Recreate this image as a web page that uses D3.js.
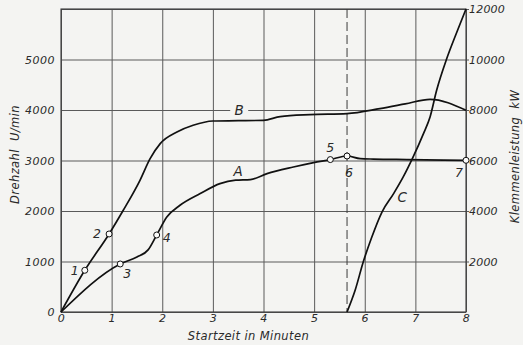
<!DOCTYPE html>
<html>
<head>
<meta charset="utf-8">
<script src="https://cdn.jsdelivr.net/npm/d3@7"></script>
<style>
  body { margin: 0; background: #f4f4f2; }
  svg { display: block; }
  text { font-family: "DejaVu Sans", sans-serif; font-style: italic; fill: #2a2a2a; }
</style>
</head>
<body>
<div id="chart"></div>
<script>
// time axis (minutes) and tick values
const timeTicks = [0, 1, 2, 3, 4, 5, 6, 7, 8];
const speedTicks = [0, 1000, 2000, 3000, 4000, 5000, 6000];
const powerTicks = [2000, 4000, 6000, 8000, 10000, 12000];

// curve B: Drehzahl (U/min)
const timeB  = [0, 0.47, 0.95, 1.23, 1.56, 1.76, 1.96, 2.29, 2.61, 3.0, 3.5, 4.0, 4.33, 4.92, 5.65, 6.3, 6.8, 7.29, 8.0];
const speedB = [0, 826, 1545, 2014, 2608, 3037, 3335, 3564, 3697, 3782, 3788, 3796, 3870, 3908, 3928, 4027, 4120, 4212, 3994];

// curve A: Drehzahl (U/min)
const timeA  = [0, 1.17, 1.5, 1.72, 1.89, 2.09, 2.35, 2.75, 3.14, 3.45, 3.74, 4.07, 4.59, 4.99, 5.32, 5.65, 5.91, 6.17, 6.83, 8.0];
const speedA = [0, 951, 1090, 1230, 1525, 1881, 2113, 2345, 2543, 2610, 2622, 2740, 2871, 2958, 3018, 3089, 3038, 3028, 3018, 3004];

// curve C: Klemmenleistung (kW)
const timeC  = [5.65, 5.81, 5.97, 6.14, 6.34, 6.57, 6.76, 6.94, 7.16, 7.29, 7.42, 7.62, 7.82, 8.0];
const powerC = [0, 860, 1980, 2970, 3960, 4690, 5350, 6075, 7065, 7723, 8780, 10036, 11089, 12000];

// numbered points
const pointNames = ["1", "2", "3", "4", "5", "6", "7"];
const pointTimes = [0.47, 0.95, 1.17, 1.89, 5.32, 5.65, 8.0];
const pointSpeeds = [826, 1545, 951, 1525, 3018, 3089, 3004];

const switchTime = 5.65; // dashed line

const W = 523, H = 345;
const margin = {top: 9, right: 57, bottom: 33, left: 61};
const width = W - margin.left - margin.right;
const height = H - margin.top - margin.bottom;

const svg = d3.select("#chart").append("svg")
    .attr("width", W)
    .attr("height", H);
const g = svg.append("g").attr("transform", `translate(${margin.left},${margin.top})`);

const x = d3.scaleLinear().domain([0, 8]).range([0, width]);
const y = d3.scaleLinear().domain([0, 6000]).range([height, 0]);
const y2 = d3.scaleLinear().domain([0, 12000]).range([height, 0]);

const gridColor = "#5a5a5a";

// vertical grid + bottom labels
const xAxis = g.append("g")
    .attr("transform", `translate(0,${height})`)
    .call(d3.axisBottom(x).tickValues(timeTicks).tickSize(-height).tickPadding(2).tickFormat(d3.format("d")));

// horizontal grid + left labels
const yAxis = g.append("g")
    .call(d3.axisLeft(y).tickValues(speedTicks).tickSize(-width).tickPadding(6)
        .tickFormat(d => d === 6000 ? "" : d));

// right axis labels
const yAxis2 = g.append("g")
    .attr("transform", `translate(${width},0)`)
    .call(d3.axisRight(y2).tickValues(powerTicks).tickSize(3).tickPadding(0).tickFormat(d3.format("d")));

[xAxis, yAxis, yAxis2].forEach(a => {
    a.select(".domain").remove();
    a.selectAll(".tick line").attr("stroke", gridColor).attr("stroke-width", 1);
    a.selectAll(".tick text")
        .attr("font-family", "DejaVu Sans")
        .attr("font-style", "italic")
        .attr("font-size", 11)
        .attr("letter-spacing", 0.5)
        .attr("fill", "#2a2a2a");
});
yAxis2.selectAll(".tick text").attr("letter-spacing", 0.2);

// frame
g.append("rect")
    .attr("width", width).attr("height", height)
    .attr("fill", "none").attr("stroke", "#3a3a3a").attr("stroke-width", 1.1);

// dashed switch line
g.append("line")
    .attr("x1", x(switchTime)).attr("x2", x(switchTime))
    .attr("y1", 0).attr("y2", height)
    .attr("stroke", "#3a3a3a").attr("stroke-width", 1)
    .attr("stroke-dasharray", "9,4");

const lineSpeed = d3.line().x(d => x(d[0])).y(d => y(d[1])).curve(d3.curveMonotoneX);
const linePower = d3.line().x(d => x(d[0])).y(d => y2(d[1])).curve(d3.curveMonotoneX);

const curveStyle = sel => sel.attr("fill", "none").attr("stroke", "#111")
    .attr("stroke-width", 1.7).attr("stroke-linejoin", "round");

g.append("path").datum(d3.zip(timeB, speedB)).attr("d", lineSpeed).call(curveStyle);
g.append("path").datum(d3.zip(timeA, speedA)).attr("d", lineSpeed).call(curveStyle);
g.append("path").datum(d3.zip(timeC, powerC)).attr("d", linePower).call(curveStyle);

// curve labels (B sits on a grid line, so clear a gap behind it)
g.append("rect")
    .attr("x", x(3.52) - 9).attr("y", y(4000) - 2)
    .attr("width", 18).attr("height", 4)
    .attr("fill", "#f4f4f2");
const curveLabels = [
    {t: "A", x: x(3.5), y: y(2790)},
    {t: "B", x: x(3.52), y: y(4000)},
    {t: "C", x: x(6.74), y: y2(4540)}
];
g.selectAll(".clabel").data(curveLabels).enter().append("text")
    .attr("class", "clabel")
    .attr("x", d => d.x).attr("y", d => d.y)
    .attr("text-anchor", "middle").attr("dominant-baseline", "central")
    .attr("font-size", 13.5)
    .text(d => d.t);

// numbered markers
const labelOffsets = [[-10, 0], [-12, 0], [7, 10], [10, 3], [0, -12], [2, 16], [-7, 12]];
const points = d3.zip(pointNames, pointTimes, pointSpeeds);

g.selectAll(".mk").data(points).enter().append("circle")
    .attr("class", "mk")
    .attr("cx", d => x(d[1])).attr("cy", d => y(d[2]))
    .attr("r", 3)
    .attr("fill", "#fbfbfa").attr("stroke", "#111").attr("stroke-width", 1);

g.selectAll(".plabel").data(points).enter().append("text")
    .attr("class", "plabel")
    .attr("x", (d, i) => x(d[1]) + labelOffsets[i][0])
    .attr("y", (d, i) => y(d[2]) + labelOffsets[i][1])
    .attr("text-anchor", "middle").attr("dominant-baseline", "central")
    .attr("font-size", 12.5)
    .text(d => d[0]);

// axis titles
svg.append("text")
    .attr("x", margin.left + x(4) - 15).attr("y", 340)
    .attr("text-anchor", "middle").attr("font-size", 11.5).attr("letter-spacing", 0.4)
    .text("Startzeit in Minuten");

svg.append("text")
    .attr("transform", `translate(19,${margin.top + y(3000) - 6}) rotate(-90)`)
    .attr("text-anchor", "middle").attr("font-size", 11.5).attr("letter-spacing", 0.4)
    .attr("xml:space", "preserve")
    .text("Drehzahl  U/min");

svg.append("text")
    .attr("transform", `translate(519,${margin.top + y(3000) - 4}) rotate(-90)`)
    .attr("text-anchor", "middle").attr("font-size", 11.5).attr("letter-spacing", 0.4)
    .attr("xml:space", "preserve")
    .text("Klemmenleistung  kW");
</script>
</body>
</html>
